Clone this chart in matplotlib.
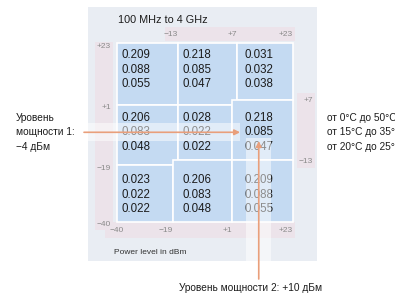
"""
plot.py - power level / temperature uncertainty map (100 MHz to 4 GHz).
"""

import numpy as np
import matplotlib
matplotlib.use("Agg")
import matplotlib.pyplot as plt
from matplotlib.patches import Rectangle
from matplotlib.transforms import blended_transform_factory, offset_copy, IdentityTransform

plt.rcParams["font.family"] = ["Liberation Sans", "DejaVu Sans"]

OUTPUT_FILE = "out.png"

TITLE = "100 MHz to 4 GHz"
AXIS_LABEL = "Power level in dBm"

# each cell: power level 2 range (x) and power level 1 range (y), dBm
CELL_P2 = [(-40, -13), (-13, 7), (7, 23),
           (-40, -13), (-13, 1), (1, 23),
           (-40, -19), (-19, 1), (1, 23)]
CELL_P1 = [(1, 23), (1, 23), (7, 23),
           (-19, 1), (-13, 1), (-13, 7),
           (-40, -19), (-40, -13), (-40, -13)]

# values per cell for the three temperature ranges
VAL_0_50 = [0.209, 0.218, 0.031, 0.206, 0.028, 0.218, 0.023, 0.206, 0.209]
VAL_15_35 = [0.088, 0.085, 0.032, 0.083, 0.022, 0.085, 0.022, 0.083, 0.088]
VAL_20_25 = [0.055, 0.047, 0.038, 0.048, 0.022, 0.047, 0.022, 0.048, 0.055]
TEMP_RANGES = ["от 0°C до 50°C", "от 15°C до 35°C", "от 20°C до 25°C"]

TICKS_TOP = [-13, 7, 23]
TICKS_BOTTOM = [-40, -19, 1, 23]
TICKS_LEFT = [23, 1, -19, -40]
TICKS_RIGHT = [7, -13]

# worked example
P1_EXAMPLE = -4
P2_EXAMPLE = 10
EXAMPLE_LINE = 1   # 15..35 °C

# schematic (not to scale) spacing of the range boundaries
GRID_DBM = [-40, -19, -13, 1, 7, 23]
GRID_FRAC = [0.0, 0.318, 0.344, 0.656, 0.684, 1.0]

PANEL = "#e9edf3"
STRIP = "#ece3ea"
CELL = "#c4daf2"
ARROW = "#e99f7b"
TICK_GREY = "#8a8a8a"

W, H = 395, 295


def fmt(v):
    return f"{v:+d}".replace("-", "\u2212")


def fwd(v):
    return np.interp(v, GRID_DBM, GRID_FRAC)


def inv(u):
    return np.interp(u, GRID_FRAC, GRID_DBM)


def main():
    fig = plt.figure(figsize=(W / 100, H / 100), dpi=100)

    # grey panel behind the diagram
    fig.add_artist(Rectangle((88 / W, 1 - 261 / H), 229 / W, 254 / H,
                             transform=fig.transFigure, facecolor=PANEL,
                             edgecolor="none", zorder=-1))

    ax = fig.add_axes([117 / W, 1 - 222 / H, 176 / W, 179 / H])
    ax.set_xscale("function", functions=(fwd, inv))
    ax.set_yscale("function", functions=(fwd, inv))
    ax.set_xlim(GRID_DBM[0], GRID_DBM[-1])
    ax.set_ylim(GRID_DBM[0], GRID_DBM[-1])
    ax.axis("off")

    # ── pink tick strips ──────────────────────────────────────────────
    for (x, y, w, h) in [(0.273, 1.011, 0.738, 0.078),
                         (-0.125, -0.045, 0.102, 1.051),
                         (-0.068, -0.089, 1.079, 0.089),
                         (1.023, 0.302, 0.102, 0.419)]:
        ax.add_patch(Rectangle((x, y), w, h, transform=ax.transAxes,
                               facecolor=STRIP, edgecolor="none",
                               clip_on=False, zorder=0.5))

    # ── cells ─────────────────────────────────────────────────────────
    for (x0, x1), (y0, y1) in zip(CELL_P2, CELL_P1):
        ax.add_patch(Rectangle((x0, y0), x1 - x0, y1 - y0, facecolor=CELL,
                               edgecolor="white", linewidth=1.2,
                               clip_on=False, zorder=1))

    line_step = 0.0816
    row_y = [0.915 - 0.349 * r for r in range(3)]
    col_x = [0.023 + 0.35 * c for c in range(3)]
    texts = {}
    for k, vals in enumerate(zip(VAL_0_50, VAL_15_35, VAL_20_25)):
        row, col = divmod(k, 3)
        for n, v in enumerate(vals):
            texts[k, n] = ax.text(col_x[col], row_y[row] - n * line_step,
                                  f"{v:.3f}", transform=ax.transAxes,
                                  fontsize=8.3, color="#1c1c1c",
                                  ha="left", va="baseline", zorder=3)

    # ── tick labels ───────────────────────────────────────────────────
    tr_x = blended_transform_factory(ax.transData, ax.transAxes)
    tr_y = blended_transform_factory(ax.transAxes, ax.transData)
    tick_kw = dict(fontsize=6, color=TICK_GREY, va="center")
    for v in TICKS_TOP:
        ax.text(v, 1.05, fmt(v), transform=tr_x, ha="right", **tick_kw)
    for v in TICKS_BOTTOM:
        ax.text(v, -0.045, fmt(v), transform=tr_x,
                ha="center" if v == GRID_DBM[0] else "right", **tick_kw)
    for v in TICKS_LEFT:
        ax.text(-0.034, v, fmt(v), ha="right",
                transform=offset_copy(tr_y, fig=fig, y=-3, units="dots"), **tick_kw)
    for v in TICKS_RIGHT:
        ax.text(1.114, v, fmt(v), ha="right",
                transform=offset_copy(tr_y, fig=fig, y=-1, units="dots"), **tick_kw)

    fig.text(118 / W, 1 - 20 / H, TITLE, fontsize=7.8, color="#1c1c1c",
             ha="left", va="center")
    fig.text(114 / W, 1 - 252 / H, AXIS_LABEL, fontsize=6, color="#333333",
             ha="left", va="center")

    # ── example labels, aligned with the middle row of values ─────────
    tr_side = blended_transform_factory(fig.transFigure, ax.transAxes)
    left_lines = ["Уровень", "мощности 1:", f"{fmt(P1_EXAMPLE)} дБм"]
    for n, (left, temp) in enumerate(zip(left_lines, TEMP_RANGES)):
        y = row_y[1] - n * line_step
        ax.text(16 / W, y, left, transform=tr_side, fontsize=7.3,
                color="#1c1c1c", ha="left", va="baseline")
        ax.text(327 / W, y, temp, transform=tr_side, fontsize=7.3,
                color="#1c1c1c", ha="left", va="baseline")
    fig.text(251 / W, 1 - 288 / H, f"Уровень мощности 2: {fmt(P2_EXAMPLE)} дБм",
             fontsize=7.3, color="#1c1c1c", ha="center", va="center")

    # cell hit by the example and its value
    hit = next(k for k, ((x0, x1), (y0, y1)) in enumerate(zip(CELL_P2, CELL_P1))
               if x0 <= P2_EXAMPLE <= x1 and y0 <= P1_EXAMPLE <= y1)
    target = texts[hit, EXAMPLE_LINE]

    # highlight bands (translucent white over the grid)
    renderer = fig.canvas.get_renderer()
    bb = target.get_window_extent(renderer)
    yc = (bb.y0 + bb.y1) / 2
    xc = (bb.x0 + bb.x1) / 2
    ax.add_patch(Rectangle((88, yc - 9), bb.x0 - 4 - 88, 18,
                           transform=IdentityTransform(), facecolor="white",
                           alpha=0.5, edgecolor="none", clip_on=False, zorder=4))
    ax.add_patch(Rectangle((xc - 12.5, H - 261), 25, bb.y0 - (H - 261),
                           transform=IdentityTransform(), facecolor="white",
                           alpha=0.5, edgecolor="none", clip_on=False, zorder=4))

    arrow_kw = dict(arrowstyle="-|>", color=ARROW, lw=1.2, shrinkA=0,
                    mutation_scale=8)
    ax.annotate("", xy=(0, 0.5), xycoords=target,
                xytext=(84 / W, 0.5), textcoords=("figure fraction", target),
                arrowprops=dict(shrinkB=3, **arrow_kw),
                annotation_clip=False, zorder=6)
    ax.annotate("", xy=(0.5, 0), xycoords=target,
                xytext=(0.5, 1 - 279 / H), textcoords=(target, "figure fraction"),
                arrowprops=dict(shrinkB=2, **arrow_kw),
                annotation_clip=False, zorder=6)

    fig.savefig(OUTPUT_FILE, dpi=100)


if __name__ == "__main__":
    main()
